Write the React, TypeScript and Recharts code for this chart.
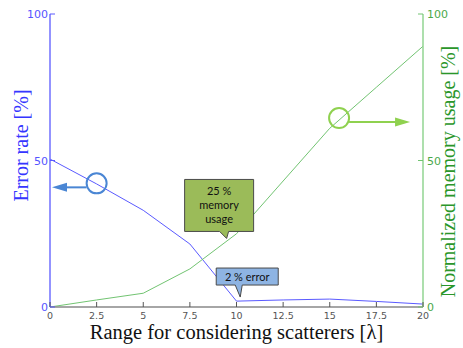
import { LineChart, Line, XAxis, YAxis, ReferenceDot, Label } from 'recharts'

const rangeX = [0, 2.5, 5, 7.5, 10, 12.5, 15, 17.5, 20]
const errorRate = [50.5, 42, 33, 21.5, 2, 2.4, 2.7, 1.9, 1]
const memoryUsage = [0, 2.4, 4.7, 13, 25, 43, 61, 75, 89]
const xTicks = [0, 2.5, 5, 7.5, 10, 12.5, 15, 17.5, 20]
const yTicks = [0, 50, 100]

const data = rangeX.map((x, i) => ({ x, error: errorRate[i], memory: memoryUsage[i] }))

const BLUE = '#5a5aff'
const GREEN = '#72c472'
const tickFont = 'Tahoma, "DejaVu Sans", sans-serif'
const titleFont = '"Liberation Serif", "Times New Roman", serif'

const BottomTick = (props: any) => {
  const { x, y, payload } = props
  return (
    <g>
      <line x1={x} y1={y} x2={x} y2={y - 5} stroke="#555" />
      <text x={x} y={y + 12} textAnchor="middle" fontSize={9.5} fill="#555" fontFamily={tickFont}>
        {payload.value}
      </text>
    </g>
  )
}

const TopTick = (props: any) => {
  const { x, y } = props
  return <line x1={x} y1={y} x2={x} y2={y + 5} stroke="#555" />
}

const LeftTick = (props: any) => {
  const { x, y, payload } = props
  return (
    <g>
      <line x1={x} y1={y} x2={x + 5} y2={y} stroke={BLUE} />
      <text x={x - 2} y={y + 4} textAnchor="end" fontSize={11} fill="#5555ff" fontFamily={tickFont}>
        {payload.value}
      </text>
    </g>
  )
}

const RightTick = (props: any) => {
  const { x, y, payload } = props
  return (
    <g>
      <line x1={x} y1={y} x2={x - 5} y2={y} stroke={GREEN} />
      <text x={x + 4} y={y + 4} textAnchor="start" fontSize={11} fill="#4aa84a" fontFamily={tickFont}>
        {payload.value}
      </text>
    </g>
  )
}

// circle marker with arrow pointing to the axis it belongs to
const circleArrow = (color: string, dir: number) => (p: any) => {
  const { cx, cy } = p
  const ay = cy + 4
  const start = cx + dir * 10
  const tip = dir < 0 ? 52 : cx + 71
  return (
    <g>
      <circle cx={cx} cy={cy} r={10} fill="none" stroke={color} strokeWidth={2} />
      <line x1={start} y1={ay} x2={tip - dir * 12} y2={ay} stroke={color} strokeWidth={2} />
      <polygon points={`${tip},${ay} ${tip - dir * 15},${ay - 4.5} ${tip - dir * 15},${ay + 4.5}`} fill={color} />
    </g>
  )
}

const callout = (lines: string[], fill: string, box: { l: number; r: number; t: number; b: number; p1: number; p2: number }) => (p: any) => {
  const { cx, cy } = p
  const L = cx + box.l
  const R = cx + box.r
  const T = cy + box.t
  const B = cy + box.b
  const path = `M${L},${T} L${R},${T} L${R},${B} L${cx + box.p2},${B} L${cx},${cy} L${cx + box.p1},${B} L${L},${B} Z`
  const midY = (T + B) / 2
  const lh = 14
  return (
    <g>
      <path d={path} fill={fill} stroke="#4a4a4a" strokeWidth={1} />
      {lines.map((s, i) => (
        <text
          key={i}
          x={(L + R) / 2}
          y={midY + (i - (lines.length - 1) / 2) * lh + 4}
          textAnchor="middle"
          fontSize={11}
          fill="#111"
          fontFamily='Lato, "Open Sans", sans-serif'
        >
          {s}
        </text>
      ))}
    </g>
  )
}

export default function App() {
  return (
    <div style={{ position: 'absolute', left: 0, top: 0, background: '#fff' }}>
      <LineChart width={463} height={348} data={data} margin={{ top: 14, right: 0, bottom: 0, left: 0 }}>
        <XAxis
          xAxisId="bottom"
          dataKey="x"
          type="number"
          domain={[0, 20]}
          ticks={xTicks}
          interval={0}
          height={41}
          tickSize={0}
          tickMargin={0}
          tickLine={false}
          axisLine={{ stroke: '#888', strokeWidth: 1.5 }}
          tick={<BottomTick />}
        >
          <Label
            content={(props: any) => {
              const vb = props.viewBox
              return (
                <text x={vb.x + vb.width / 2} y={vb.y + 32} textAnchor="middle" fontSize={20.5} fill="#111" fontFamily={titleFont}>
                  Range for considering scatterers [λ]
                </text>
              )
            }}
          />
        </XAxis>
        <XAxis
          xAxisId="top"
          orientation="top"
          dataKey="x"
          type="number"
          domain={[0, 20]}
          ticks={xTicks}
          interval={0}
          height={0}
          tickSize={0}
          tickMargin={0}
          tickLine={false}
          axisLine={{ stroke: '#888', strokeWidth: 1.5 }}
          tick={<TopTick />}
        />
        <YAxis
          yAxisId="left"
          domain={[0, 100]}
          ticks={yTicks}
          width={50}
          tickSize={0}
          tickMargin={0}
          tickLine={false}
          axisLine={{ stroke: '#6f6fff', strokeWidth: 1.5 }}
          tick={<LeftTick />}
        >
          <Label
            content={(props: any) => {
              const vb = props.viewBox
              const cx = vb.x + 21
              const cy = vb.y + vb.height / 2 - 15
              return (
                <text x={cx} y={cy} transform={`rotate(-90 ${cx} ${cy})`} dy={7} textAnchor="middle" fontSize={20} fill="#3535ff" fontFamily={titleFont}>
                  Error rate [%]
                </text>
              )
            }}
          />
        </YAxis>
        <YAxis
          yAxisId="right"
          orientation="right"
          domain={[0, 100]}
          ticks={yTicks}
          width={40}
          tickSize={0}
          tickMargin={0}
          tickLine={false}
          axisLine={{ stroke: '#92d492', strokeWidth: 1.5 }}
          tick={<RightTick />}
        >
          <Label
            content={(props: any) => {
              const vb = props.viewBox
              const cx = vb.x + 25
              const cy = vb.y + vb.height / 2 + 11
              return (
                <text x={cx} y={cy} transform={`rotate(-90 ${cx} ${cy})`} dy={7} textAnchor="middle" fontSize={20} fill="#2a962a" fontFamily={titleFont}>
                  Normalized memory usage [%]
                </text>
              )
            }}
          />
        </YAxis>
        <Line xAxisId="bottom" yAxisId="left" type="linear" dataKey="error" stroke={BLUE} strokeWidth={1} dot={false} isAnimationActive={false} />
        <Line xAxisId="bottom" yAxisId="right" type="linear" dataKey="memory" stroke={GREEN} strokeWidth={1} dot={false} isAnimationActive={false} />
        <ReferenceDot xAxisId="bottom" yAxisId="left" x={2.5} y={42.2} shape={circleArrow('#4a86d4', -1)} />
        <ReferenceDot xAxisId="bottom" yAxisId="right" x={15.5} y={64.5} shape={circleArrow('#8fd14f', 1)} />
        <ReferenceDot
          xAxisId="bottom"
          yAxisId="right"
          x={9.47}
          y={23.4}
          shape={callout(['25 %', 'memory', 'usage'], '#9bbb59', { l: -42, r: 27, t: -59, b: -7, p1: -7, p2: 2 })}
        />
        <ReferenceDot
          xAxisId="bottom"
          yAxisId="left"
          x={10.2}
          y={3.4}
          shape={callout(['2 % error'], '#8eb4e3', { l: -24, r: 38, t: -29, b: -12, p1: -5, p2: 2 })}
        />
      </LineChart>
    </div>
  )
}
